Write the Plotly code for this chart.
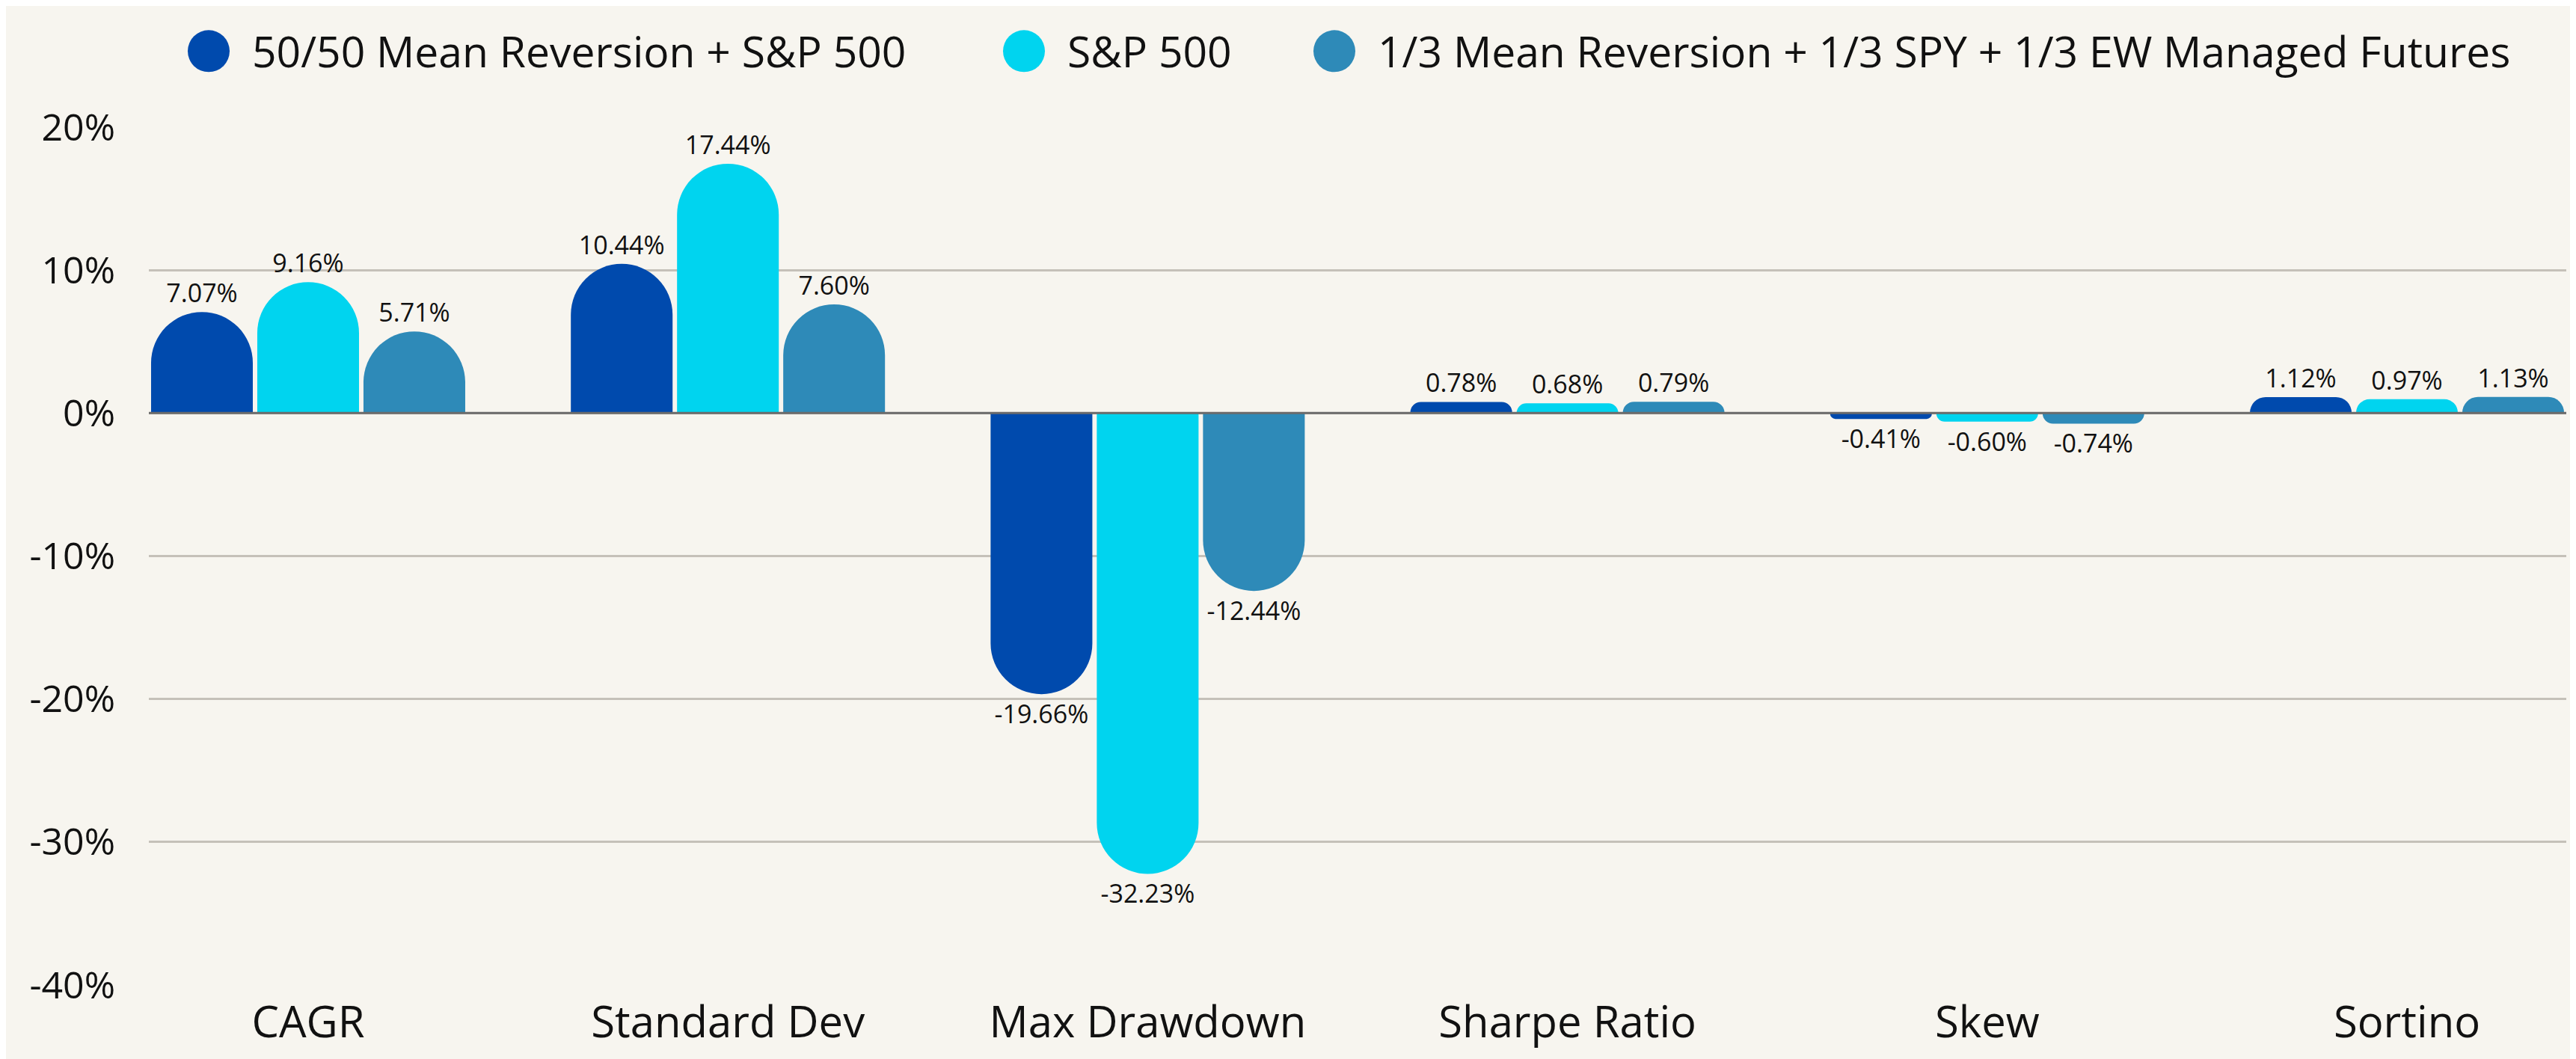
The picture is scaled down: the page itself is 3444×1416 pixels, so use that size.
import plotly.graph_objects as go

categories = ["CAGR", "Standard Dev", "Max Drawdown", "Sharpe Ratio", "Skew", "Sortino"]
series_names = [
    "50/50 Mean Reversion + S&P 500",
    "S&P 500",
    "1/3 Mean Reversion + 1/3 SPY + 1/3 EW Managed Futures",
]
mean_rev_sp = [7.07, 10.44, -19.66, 0.78, -0.41, 1.12]
sp500 = [9.16, 17.44, -32.23, 0.68, -0.60, 0.97]
thirds = [5.71, 7.60, -12.44, 0.79, -0.74, 1.13]
series_values = [mean_rev_sp, sp500, thirds]
colors = ["#004aad", "#00d4ef", "#2e8ab8"]
y_ticks = [20, 10, 0, -10, -20, -30, -40]
y_tick_text = ["20%", "10%", "0%", "-10%", "-20%", "-30%", "-40%"]

FONT = "Open Sans"
BG = "#f7f5ef"
TXT = "#111111"

# page body has an 8px margin: the figure sits at (8, 8)
OFF = 8
W, H = 3444 - OFF, 1416 - OFF
ML, MR, MT, MB = 199 - OFF, 13, 170 - OFF, 95
PW = W - ML - MR
PH = H - MT - MB

fig = go.Figure()
for name, vals, col in zip(series_names, series_values, colors):
    fig.add_trace(go.Bar(
        x=categories, y=vals, name=name,
        marker=dict(color=col, cornerradius="50%", line=dict(width=0)),
        texttemplate="%{y:.2f}%", textposition="outside",
        textfont=dict(family=FONT, size=34, color=TXT, weight=500),
        constraintext="none", cliponaxis=False, showlegend=False,
    ))

bargap = 0.241
n = len(categories)

# legend drawn with large circular markers (page pixel positions)
legend_px = [279, 1369, 1784]
legend_y_px = 68
shapes = []
annotations = []
for name, col, px in zip(series_names, colors, legend_px):
    xp = (px - OFF - ML) / PW
    yp = (H - MB - (legend_y_px - OFF)) / PH
    shapes.append(dict(type="circle", xref="paper", yref="paper",
                       xsizemode="pixel", ysizemode="pixel",
                       xanchor=xp, yanchor=yp, x0=-28, x1=28, y0=-28, y1=28,
                       fillcolor=col, line=dict(width=0)))
    annotations.append(dict(text=name, xref="paper", yref="paper",
                            x=xp + 56 / PW, y=yp, xanchor="left", yanchor="middle",
                            showarrow=False,
                            font=dict(family=FONT, size=57, color=TXT, weight=500)))

shapes.append(dict(type="line", xref="paper", yref="y", x0=0, x1=1, y0=0, y1=0,
                   line=dict(color="#6b6b6b", width=3), layer="above"))

fig.update_layout(
    width=W, height=H,
    margin=dict(l=ML, r=MR, t=MT, b=MB, pad=0),
    paper_bgcolor=BG, plot_bgcolor=BG,
    barmode="group", bargap=bargap, bargroupgap=0.042,
    shapes=shapes, annotations=annotations,
    font=dict(family=FONT, color=TXT),
    xaxis=dict(range=[-0.5 + bargap / 2, n - 0.5 - bargap / 2],
               showgrid=False, zeroline=False, showline=False,
               tickfont=dict(family=FONT, size=58, color=TXT, weight=500),
               ticks="", ticklabelstandoff=11),
    yaxis=dict(range=[-40, 20], tickvals=y_ticks, ticktext=y_tick_text,
               showgrid=True, gridcolor="#c5c1b9", gridwidth=3,
               zeroline=False, showline=False,
               tickfont=dict(family=FONT, size=50, color=TXT, weight=500),
               ticks="", ticklabelstandoff=44),
)

fig.write_html("out.html")
